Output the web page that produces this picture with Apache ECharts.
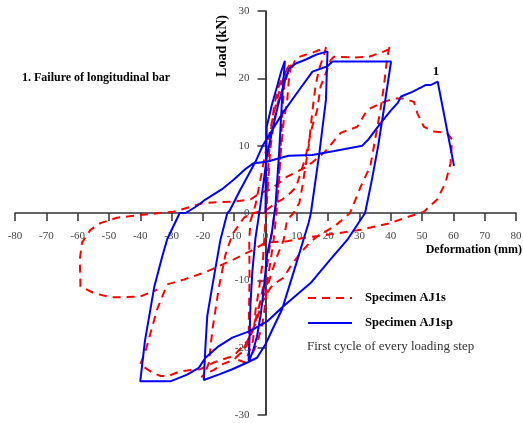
<!DOCTYPE html>
<html>
<head>
<meta charset="utf-8">
<script src="https://cdn.jsdelivr.net/npm/echarts@6/dist/echarts.min.js"></script>
<style>
html,body{margin:0;padding:0;background:#fff;}
#chart{width:523px;height:423px;}
</style>
</head>
<body>
<div id="chart"></div>
<script>
// Tick values
var xTicks = [-80,-70,-60,-50,-40,-30,-20,-10,0,10,20,30,40,50,60,70,80];
var yTicks = [-30,-20,-10,0,10,20,30];

// Specimen AJ1s (red dashed) – deformation (mm) and load (kN)
var ajsDeform = [0,0.6,1.1,1.8,2.8,4,5.3,6.3,
  5.7,5.1,4.6,4,3.5,2.6,1.5,0.6,0,-1,-2.6,-4.2,-5.4,
  -5.3,-5.1,-5.2,-4.8,-3.2,-1.6,0,1.8,3.5,5.3,7,8.3,
  7.4,6.9,5.8,4.8,4.2,3,1.5,0.3,-1,-2.5,-4.5,-7,-10,
  -6.5,-4,-3.2,-2.1,-0.8,0,0.5,1.5,2.7,4,5.8,7,8.6,9.7,12.8,15,17.2,19.3,
  19.9,18.7,17.2,16,15.2,14.5,13.8,12.8,11.8,10.8,9,6.9,5.8,3.7,1.6,0,-1.5,-3,-5,-7.5,-10.1,-13.5,-16.5,-19.7,-20.5,
  -19.6,-18.7,-18.1,-17,-14.9,-12.8,-10.6,-6.9,-3.7,0.5,3.2,5.3,8,9.7,11.2,12.8,13.8,14.9,16.5,17.6,19.2,20.8,21.8,28.2,33,37.3,39.9,
  39.7,38.9,37.8,36.7,35,33.5,30.4,27,22,17,14.4,11.2,8,5.8,3.2,1.6,0.3,-1.3,-3,-5.8,-10.1,-16.5,-20.8,-27.2,-31,-33.5,-36.2,-40,
  -39.5,-38.3,-36.7,-34.6,-31.4,-26.1,-18.7,-10.1,-3.7,0,6.9,12.2,20.2,30.4,39.9,44.7,47.4,50.6,54.8,57.5,59.1,59.6,
  58,53.8,50.6,48.5,47.4,44.2,41,36.7,32.5,29.3,24,18.6,13.3,6.9,1.6,-1.6,-4.8,-10.1,-19.7,-29.3,-40,-47.4,-52.7,-55.9,-58.6,-59.3,-59.1,
  -54.8,-49.5,-46.3,-40,-34.6];
var ajsLoad = [0,4.5,8.6,12.6,16,18.5,20.2,21,
  17,12,8,3.5,0,-4,-7.5,-10,-13.3,-16.5,-19.3,-20.9,-21.8,
  -16,-9.5,-4,-1.2,1.2,5,9,13,16.5,19.5,21.5,22.4,
  19.5,16.5,13.6,8.6,3.7,0.2,-4.5,-8.5,-11.5,-15,-18,-20.5,-21.6,-22.2,
  -19,-14.5,-11.4,-6.9,-1,2,9.4,13.5,16.5,18.8,20.6,21.7,23,23.5,23.8,24.2,24.6,24.6,
  23.5,21.5,19,16,13,10,7,4,1.5,0,-1,-4,-6.4,-9.4,-11.9,-12.8,-15.5,-18.3,-20.6,-21.8,-22.4,-23.3,-24,-24.4,-24.1,
  -23,-22.3,-17.5,-11.1,-6.2,-3.2,-0.7,0,0.5,1.5,2,3,3.8,5.9,8.3,10.5,12.8,15.3,18.8,20.7,22.7,23.2,23.1,23.2,23.9,24.4,24.9,
  23.2,18.8,15.3,10.9,7,3.9,0,-2,-3.3,-4.3,-5.9,-7.9,-9.6,-10.4,-11.1,-12.1,-13.5,-16.3,-19,-21.2,-22.2,-23.2,-23.5,-24.2,-24.2,-23.7,-22.5,-22.3,
  -20.5,-17.8,-14.3,-10.6,-9.9,-8.7,-6.9,-5.4,-4.4,-4.2,-3.7,-3.2,-2.5,-1.5,-0.7,-0.3,0.2,2,4.5,7.4,10.9,11.9,
  12.1,12.8,14.8,16.5,17,17,16.3,15.3,12.8,11.9,8.9,6.9,5.4,3.5,3,2,1.7,1.5,0.2,-0.3,-0.7,-1.5,-2.5,-4.4,-6.9,-10.9,-11.9,
  -12.5,-12.5,-12.4,-11.4,-10.6];

// Specimen AJ1sp (blue solid)
var ajspDeform = [0,0.1,0.4,2,3.7,5,6.2,
  5.3,4.3,3.2,2,0.5,-0.5,-1.5,-2.7,-4,-5.3,
  -5,-4.8,-4.2,-3.2,-1.6,-0.5,0.5,2.1,4,6.4,7.6,9.7,12.9,16.1,19.8,
  19.3,17.2,14.5,13.8,9.5,5.3,2.5,0,-2.7,-5.8,-10.6,-15,-19.7,
  -19.2,-18.6,-17,-14.4,-12.2,-11.5,-8,-3.2,-1,0.3,5.4,10.8,15,19.8,21.4,40.1,
  38,36,34,31.8,26.1,20,14.4,5.8,0.5,-4.8,-10.6,-15,-19.2,-21.3,-25,-30.4,-40,
  -38.5,-35.5,-33,-31.4,-27.4,-25.5,-22,-19.2,-14,-10,-6.5,-3.8,0.5,4,7.4,14.9,22,30.9,33,36.7,40,42.3,43.3,46.9,51.1,52.7,55,60.2];
var ajspLoad = [0,6,12.8,16,18.8,21,22.6,
  17,8.6,1.2,-3,-6.2,-11.1,-15,-18.3,-20.5,-22,
  -17,-13.6,-8.7,-3.7,1.2,5,8.6,12.1,16,20,21.5,22.2,22.8,23.5,24,
  16.8,8.9,0,-1.4,-8,-14.3,-17,-19.5,-21.5,-22.2,-23.2,-24,-24.8,
  -20,-15.3,-10.9,-4,0,0.3,3.5,7.6,9.9,10.9,14.8,18.3,21,21.8,22.5,22.5,
  16,10,5,0,-4,-7.3,-10.4,-13.8,-16.1,-17.5,-18.5,-19.8,-21.5,-23,-24,-25,-25,
  -19,-10.9,-6.5,-3.9,0,0,1,2,3.5,5,6.5,7.4,7.6,8.1,8.5,8.6,9.2,10,11,13.3,15.2,16.4,17.3,18,19,19,19.5,7];

function zip(xs, ys){ var out=[]; for(var i=0;i<xs.length;i++){ out.push([xs[i], ys[i]]); } return out; }

var serif = "Liberation Serif";
var gridL = 15, gridR = 7, gridT = 11, gridB = 8, W = 523, H = 423;
// offsets so that the axes cross at the data origin (axes placed at grid edges, then shifted)
var yZeroOffset = -((H - gridT - gridB) * (0 - yTicks[0]) / (yTicks[yTicks.length-1] - yTicks[0]));
var xZeroOffset = -((W - gridL - gridR) * (0 - xTicks[0]) / (xTicks[xTicks.length-1] - xTicks[0]));

var chart = echarts.init(document.getElementById('chart'), null, {renderer:'canvas'});
chart.setOption({
  animation:false,
  backgroundColor:'#fff',
  grid:{left:gridL,right:gridR,top:gridT,bottom:gridB,containLabel:false,outerBoundsMode:'none'},
  xAxis:{type:'value',position:'bottom',offset:yZeroOffset,min:xTicks[0],max:xTicks[xTicks.length-1],interval:10,
    axisLine:{show:true,onZero:false,lineStyle:{color:'#333',width:1.5}},
    axisTick:{show:true,inside:false,length:8,lineStyle:{color:'#333',width:1.5}},
    axisLabel:{show:true,inside:false,margin:18,fontFamily:serif,fontSize:11,color:'#444'},
    splitLine:{show:false}},
  yAxis:{type:'value',position:'left',offset:xZeroOffset,min:yTicks[0],max:yTicks[yTicks.length-1],interval:10,
    axisLine:{show:true,onZero:false,lineStyle:{color:'#000',width:1.5}},
    axisTick:{show:true,inside:false,length:8,lineStyle:{color:'#333',width:1.5}},
    axisLabel:{show:true,inside:false,margin:16,fontFamily:serif,fontSize:11,color:'#444'},
    splitLine:{show:false}},
  series:[
    {name:'Specimen AJ1s',type:'line',data:zip(ajsDeform,ajsLoad),showSymbol:false,symbol:'none',
      lineStyle:{color:'#ff0000',width:2,type:[8,6]},itemStyle:{color:'#ff0000'}},
    {name:'Specimen AJ1sp',type:'line',data:zip(ajspDeform,ajspLoad),showSymbol:false,symbol:'none',
      lineStyle:{color:'#0000ff',width:2,type:'solid'},itemStyle:{color:'#0000ff'}}
  ],
  graphic:[
    {type:'text',x:222,y:46,rotation:Math.PI/2,style:{text:'Load (kN)',font:"bold 14px "+serif,fill:'#000',align:'center',verticalAlign:'middle'}},
    {type:'text',x:522,y:250,style:{text:'Deformation (mm)',font:"bold 12px "+serif,fill:'#000',align:'right',verticalAlign:'middle'}},
    {type:'text',x:22,y:78,style:{text:'1. Failure of longitudinal bar',font:"bold 12px "+serif,fill:'#000',align:'left',verticalAlign:'middle'}},
    {type:'text',x:436,y:72,style:{text:'1',font:"bold 13px "+serif,fill:'#000',align:'center',verticalAlign:'middle'}},
    {type:'line',shape:{x1:308,y1:298,x2:352,y2:298},style:{stroke:'#ff0000',lineWidth:2,lineDash:[8,6]}},
    {type:'text',x:365,y:298,style:{text:'Specimen AJ1s',font:"bold 12.5px "+serif,fill:'#000',align:'left',verticalAlign:'middle'}},
    {type:'line',shape:{x1:308,y1:323,x2:352,y2:323},style:{stroke:'#0000ff',lineWidth:2}},
    {type:'text',x:365,y:323,style:{text:'Specimen AJ1sp',font:"bold 12.5px "+serif,fill:'#000',align:'left',verticalAlign:'middle'}},
    {type:'text',x:307,y:347,style:{text:'First cycle of every loading step',font:"13px "+serif,fill:'#333',align:'left',verticalAlign:'middle'}}
  ]
});
</script>
</body>
</html>
